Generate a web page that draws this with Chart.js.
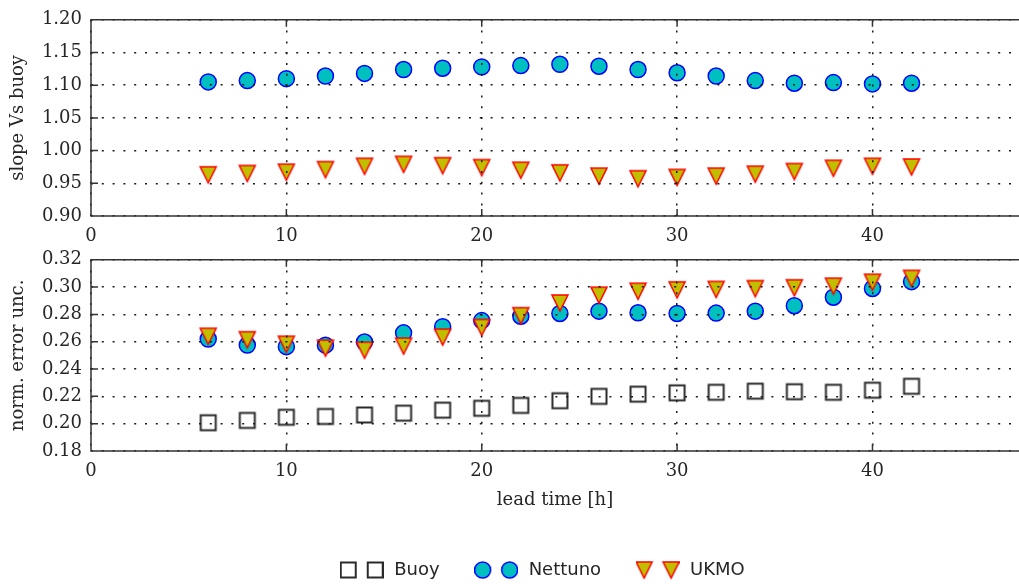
<!DOCTYPE html>
<html><head><meta charset="utf-8">
<script src="https://cdn.jsdelivr.net/npm/chart.js@4/dist/chart.umd.min.js"></script>
<style>
html,body{margin:0;padding:0;background:#fff;overflow:hidden;width:1019px;height:584px;}
#c1{position:absolute;left:0;top:0;}
#c2{position:absolute;left:0;top:240px;}
</style></head><body>
<canvas id="c1" width="1019" height="250"></canvas>
<canvas id="c2" width="1019" height="344"></canvas>
<script>
// ---- data ----
const leadTime = [6,8,10,12,14,16,18,20,22,24,26,28,30,32,34,36,38,40,42];
const slopeNettuno = [1.105,1.107,1.110,1.114,1.118,1.124,1.126,1.128,1.130,1.132,1.129,1.124,1.119,1.114,1.107,1.103,1.104,1.102,1.103];
const slopeUKMO = [0.963,0.965,0.967,0.971,0.976,0.979,0.977,0.974,0.970,0.966,0.961,0.957,0.959,0.961,0.964,0.968,0.973,0.976,0.975];
const errBuoy = [0.2007,0.2024,0.2047,0.2053,0.2064,0.2077,0.2099,0.2113,0.2134,0.2168,0.2200,0.2216,0.2226,0.2230,0.2238,0.2234,0.2230,0.2245,0.2274];
const errNettuno = [0.2620,0.2576,0.2564,0.2575,0.2598,0.2665,0.2710,0.2755,0.2787,0.2807,0.2824,0.2812,0.2807,0.2810,0.2824,0.2864,0.2926,0.2990,0.3040];
const errUKMO = [0.2640,0.2615,0.2582,0.2553,0.2538,0.2568,0.2634,0.2705,0.2791,0.2884,0.2941,0.2970,0.2980,0.2983,0.2989,0.2995,0.3007,0.3036,0.3064];
const xTicks = [0,10,20,30,40];
const slopeTicks = [0.90,0.95,1.00,1.05,1.10,1.15,1.20];
const errTicks = [0.18,0.20,0.22,0.24,0.26,0.28,0.30,0.32];
const seriesNames = ['Buoy','Nettuno','UKMO'];

// ---- styles ----
const cFill = '#00bfbf', cEdge = '#0000ff';
const tFill = '#bfbf00', tEdge = '#ff0000';
const sEdge = '#2a2a2a';
const textColor = '#262626';
const tickFont = {family: "'DejaVu Serif', serif", size: 18};
const titleFont = {family: "'DejaVu Serif', serif", size: 18};
const legendFont = {family: "'DejaVu Sans', sans-serif", size: 18};

function mk(w, h, draw) {
  const c = document.createElement('canvas'); c.width = w; c.height = h;
  draw(c.getContext('2d')); return c;
}
function drawCircle(g, cx, cy) {
  g.beginPath(); g.arc(cx, cy, 8, 0, 2 * Math.PI);
  g.fillStyle = cFill; g.fill(); g.lineWidth = 1.5; g.strokeStyle = cEdge; g.stroke();
}
function drawTri(g, cx, cy) {
  const s = 8;
  g.beginPath(); g.moveTo(cx - s, cy - s); g.lineTo(cx + s, cy - s); g.lineTo(cx, cy + s); g.closePath();
  g.fillStyle = tFill; g.fill(); g.lineWidth = 1.5; g.lineJoin = 'miter'; g.strokeStyle = tEdge; g.stroke();
}
function drawSq(g, cx, cy) {
  const s = 7.5;
  g.lineWidth = 2; g.strokeStyle = sEdge; g.strokeRect(cx - s, cy - s, 2 * s, 2 * s);
}
const triImg = mk(20, 20, g => drawTri(g, 10, 10));
const sqImg = mk(20, 20, g => drawSq(g, 10, 10));
const legendImgs = {
  Buoy: mk(44, 20, g => { drawSq(g, 8.5, 10); drawSq(g, 35.5, 10); }),
  Nettuno: mk(44, 20, g => { drawCircle(g, 8.5, 10); drawCircle(g, 35.5, 10); }),
  UKMO: mk(44, 20, g => { drawTri(g, 8.5, 10); drawTri(g, 35.5, 10); })
};

function pts(ys) { return leadTime.map((x, i) => ({x: x, y: ys[i]})); }

const framePlugin = {
  id: 'frame',
  afterDraw(chart) {
    const {ctx, chartArea: a, scales} = chart;
    ctx.save();
    ctx.setLineDash([]);
    ctx.strokeStyle = '#333'; ctx.lineWidth = 1.5;
    ctx.beginPath();
    ctx.moveTo(a.right + 5, a.top); ctx.lineTo(a.left, a.top);
    ctx.lineTo(a.left, a.bottom); ctx.lineTo(a.right + 5, a.bottom);
    const L = 7;
    xTicks.forEach(v => {
      if (v === scales.x.min) return;
      const px = scales.x.getPixelForValue(v);
      ctx.moveTo(px, a.bottom); ctx.lineTo(px, a.bottom - L);
      ctx.moveTo(px, a.top); ctx.lineTo(px, a.top + L);
    });
    scales.y.ticks.forEach(t => {
      const py = scales.y.getPixelForValue(t.value);
      ctx.moveTo(a.left, py); ctx.lineTo(a.left + L, py);
    });
    ctx.stroke();
    ctx.restore();
  }
};

function xScale(withTitle) {
  return {
    type: 'linear', min: 0, max: 47.5,
    afterFit(s) { s.height = withTitle ? 60 : 29; },
    afterBuildTicks(s) { s.ticks = xTicks.map(v => ({value: v})); },
    grid: {color: '#1a1a1a', lineWidth: 1.5, drawTicks: false, z: 1},
    border: {display: false, dash: [2, 8.8]},
    ticks: {padding: 10, font: tickFont, color: textColor, maxRotation: 0, callback: v => String(v)},
    title: {display: withTitle, text: 'lead time [h]', font: titleFont, color: textColor, padding: {top: 0, bottom: 0}}
  };
}
function yScale(min, max, tickArr, title) {
  return {
    type: 'linear', min: min, max: max,
    afterFit(s) { s.width = 91; },
    afterBuildTicks(s) { s.ticks = tickArr.map(v => ({value: v})); },
    grid: {color: '#1a1a1a', lineWidth: 1.5, drawTicks: false, z: 1},
    border: {display: false, dash: [2, 8.8]},
    ticks: {padding: 9, font: tickFont, color: textColor, callback: v => Number(v).toFixed(2)},
    title: {display: true, text: title, font: titleFont, color: textColor, padding: {top: 8, bottom: 0}}
  };
}

Chart.defaults.font.family = "'DejaVu Serif', serif";

new Chart(document.getElementById('c1'), {
  type: 'scatter',
  data: {
    datasets: [
      {label: 'Nettuno', data: pts(slopeNettuno), pointStyle: 'circle', pointRadius: 8,
       backgroundColor: cFill, borderColor: cEdge, borderWidth: 1.5, order: 1},
      {label: 'UKMO', data: pts(slopeUKMO), pointStyle: triImg, pointRadius: 8,
       backgroundColor: tFill, borderColor: tEdge, order: 0}
    ]
  },
  options: {
    responsive: false, animation: false, events: [],
    layout: {padding: {top: 19, left: 0, right: 0, bottom: 5}, autoPadding: false},
    plugins: {legend: {display: false}, tooltip: {enabled: false}},
    scales: {x: xScale(false), y: yScale(0.90, 1.20, slopeTicks, 'slope Vs buoy')}
  },
  plugins: [framePlugin]
});

const legendPlace = {
  id: 'legendPlace',
  afterLayout(chart) {
    const L = chart.legend; if (!L) return;
    const dx = 32, top = 288, h = L.height;
    L.left += dx; L.right += dx; L.top = top; L.bottom = top + h;
  }
};

new Chart(document.getElementById('c2'), {
  type: 'scatter',
  data: {
    datasets: [
      {label: 'Buoy', data: pts(errBuoy), pointStyle: sqImg, pointRadius: 8,
       backgroundColor: 'rgba(0,0,0,0)', borderColor: sEdge, order: 2},
      {label: 'Nettuno', data: pts(errNettuno), pointStyle: 'circle', pointRadius: 8,
       backgroundColor: cFill, borderColor: cEdge, borderWidth: 1.5, order: 1},
      {label: 'UKMO', data: pts(errUKMO), pointStyle: triImg, pointRadius: 8,
       backgroundColor: tFill, borderColor: tEdge, order: 0}
    ]
  },
  options: {
    responsive: false, animation: false, events: [],
    layout: {padding: {top: 15, left: 0, right: 0, bottom: 12}, autoPadding: false},
    plugins: {
      tooltip: {enabled: false},
      legend: {
        display: true, position: 'bottom', align: 'center',
        labels: {
          usePointStyle: true, pointStyleWidth: 47, padding: 33,
          font: legendFont, color: textColor,
          sort: (a, b) => a.datasetIndex - b.datasetIndex,
          generateLabels(chart) {
            const items = Chart.defaults.plugins.legend.labels.generateLabels(chart);
            items.forEach(it => { it.pointStyle = legendImgs[chart.data.datasets[it.datasetIndex].label]; it.fontColor = textColor; });
            return items;
          }
        }
      }
    },
    scales: {x: xScale(true), y: yScale(0.18, 0.32, errTicks, 'norm. error unc.')}
  },
  plugins: [framePlugin, legendPlace]
});
</script>
</body></html>
